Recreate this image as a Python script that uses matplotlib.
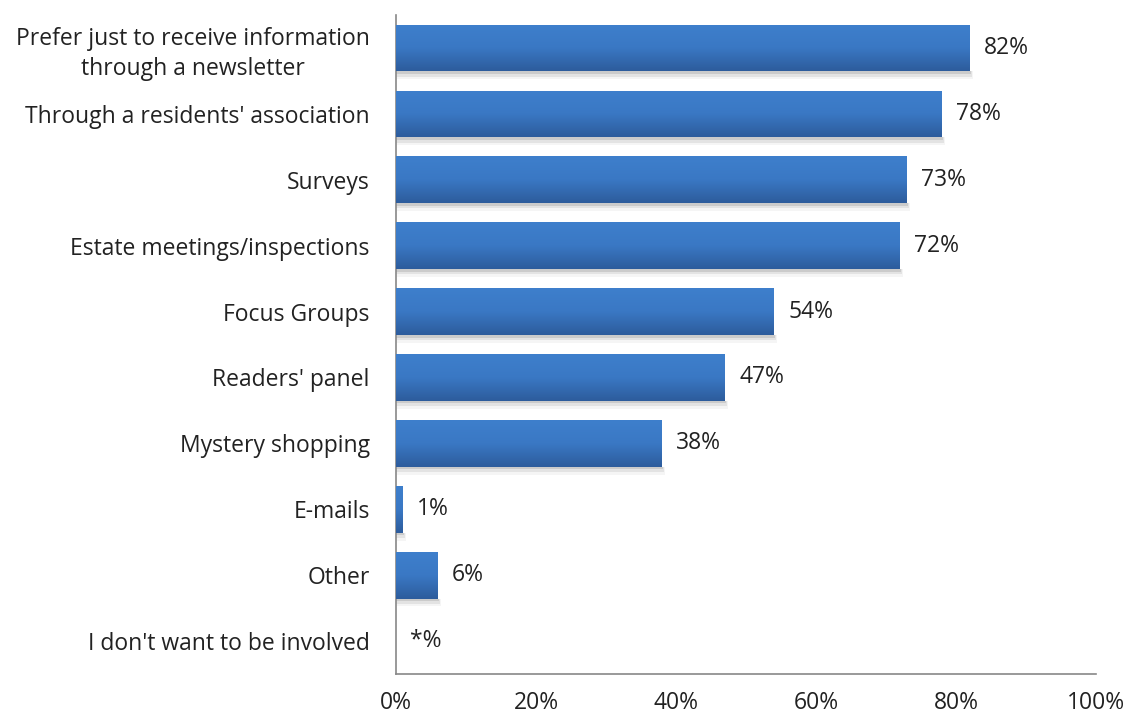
import numpy as np
import matplotlib.pyplot as plt
from matplotlib.colors import LinearSegmentedColormap
from matplotlib.patches import Rectangle

categories = [
    "Prefer just to receive information\nthrough a newsletter",
    "Through a residents' association",
    "Surveys",
    "Estate meetings/inspections",
    "Focus Groups",
    "Readers' panel",
    "Mystery shopping",
    "E-mails",
    "Other",
    "I don't want to be involved",
]
values = [82, 78, 73, 72, 54, 47, 38, 1, 6, 0]
value_labels = ["82%", "78%", "73%", "72%", "54%", "47%", "38%", "1%", "6%", "*%"]
xticks = [0, 20, 40, 60, 80, 100]

plt.rcParams["font.family"] = ["Open Sans", "DejaVu Sans"]
FS = 16.5

fig = plt.figure(figsize=(11.29, 7.17), dpi=100)
ax = fig.add_axes([0.3508, 0.06, 0.62, 0.919])

# light on top, darker at the bottom of each bar
grad = LinearSegmentedColormap.from_list("bar", ["#3e7fcc", "#3a78c4", "#2d5c9c"])
ypos = np.arange(len(categories))
h = 0.71

for y, v in zip(ypos, values):
    if v <= 0:
        continue
    # soft shadow under each bar
    for k, a in enumerate([0.10, 0.07, 0.04]):
        ax.add_patch(Rectangle((0, y + h / 2), v + 0.15 * (k + 1), 0.04 * (k + 1),
                               facecolor="black", alpha=a, lw=0, zorder=1))
    bar = ax.barh(y, v, height=h, color="#3a74bd", zorder=2)[0]
    img = ax.imshow(np.linspace(0, 1, 100).reshape(-1, 1), cmap=grad, aspect="auto",
                    extent=(0, v, y + h / 2, y - h / 2), origin="upper", zorder=3)
    img.set_clip_path(bar)

for y, v, lab in zip(ypos, values, value_labels):
    ax.annotate(lab, (v, y), xytext=(14, 0), textcoords="offset pixels",
                va="center", ha="left", fontsize=FS, color="#222222")

ax.set_xlim(0, 100)
ax.set_ylim(len(categories) - 0.5, -0.5)
ax.set_yticks(ypos)
ax.set_yticklabels(categories, fontsize=FS, color="#222222", linespacing=1.35,
                   multialignment="center")
ax.set_xticks(xticks)
ax.set_xticklabels([f"{t}%" for t in xticks], fontsize=FS, color="#222222")
ax.tick_params(axis="both", length=0)
ax.tick_params(axis="y", pad=19)
ax.tick_params(axis="x", pad=12)
for s in ["top", "right"]:
    ax.spines[s].set_visible(False)
for s in ["left", "bottom"]:
    ax.spines[s].set_color("#888888")
    ax.spines[s].set_linewidth(1.2)

fig.savefig("out.png", dpi=100)
